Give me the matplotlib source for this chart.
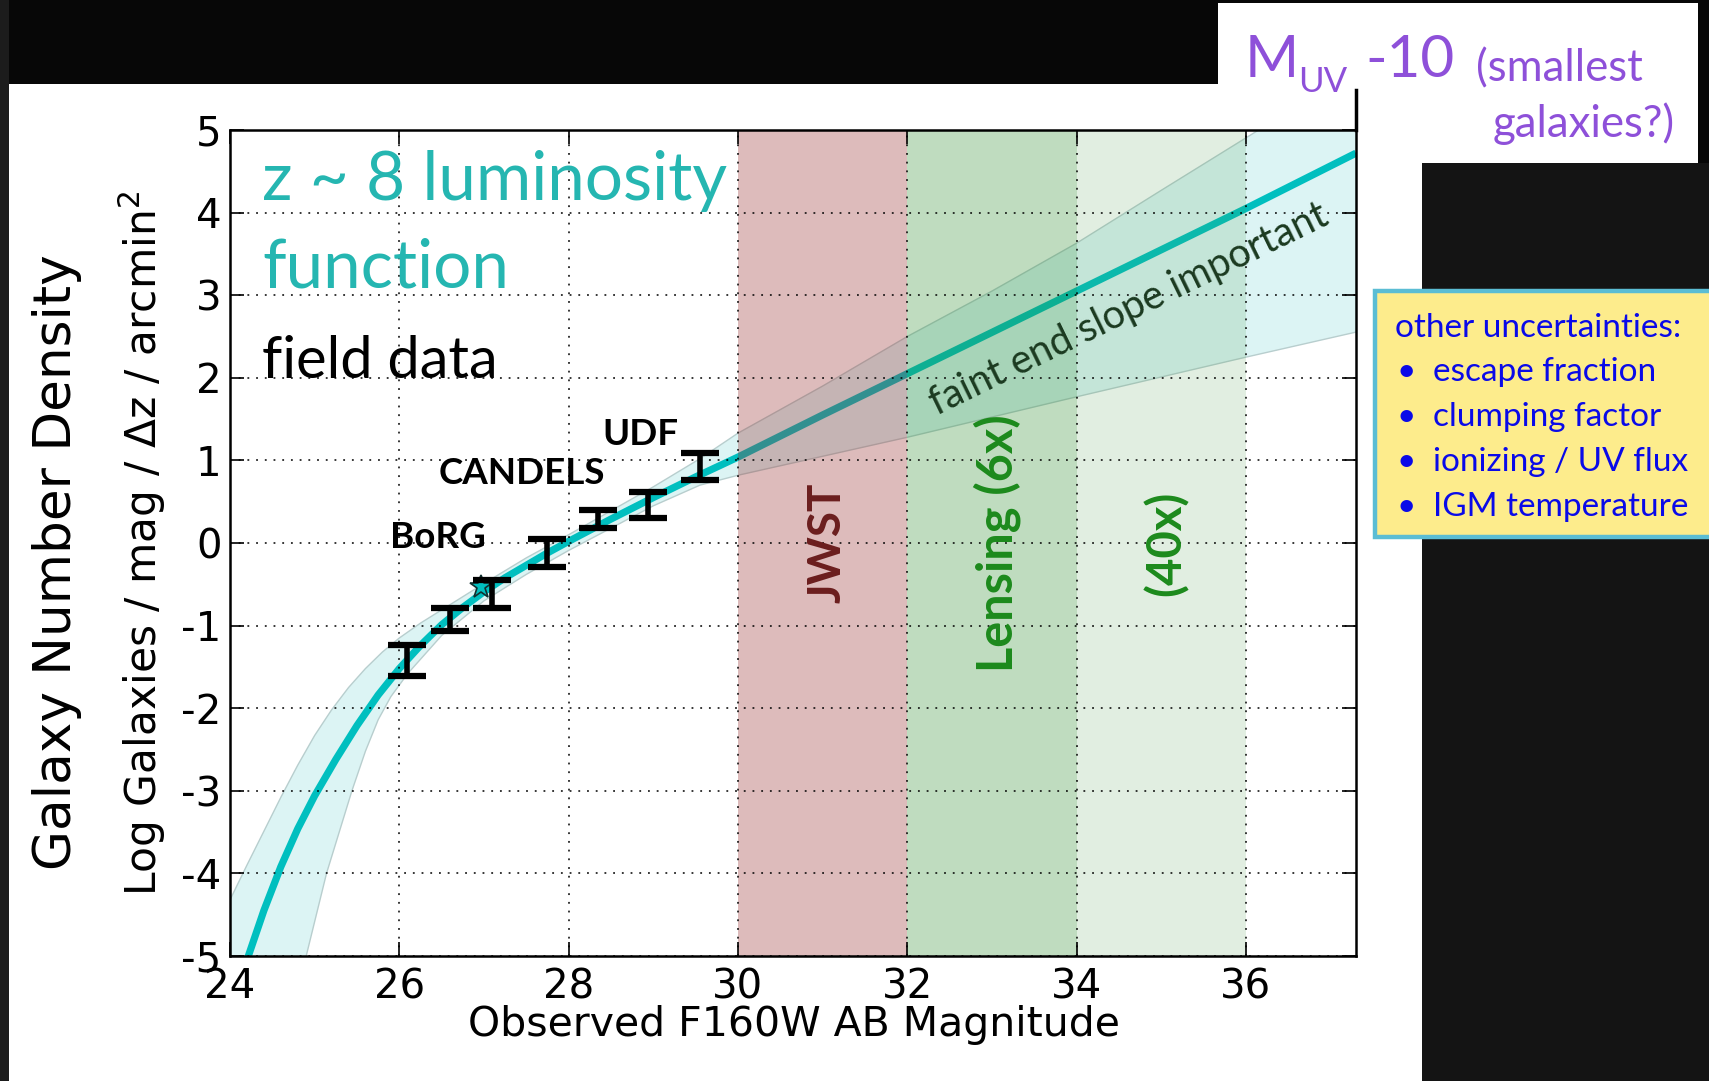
import matplotlib.pyplot as plt
import numpy as np
from matplotlib.patches import Rectangle
from matplotlib.lines import Line2D

plt.rcParams['axes.unicode_minus'] = False

# z~8 luminosity function (log number per mag per dz per arcmin^2)
lf_mag = [24.15, 24.40, 24.60, 24.80, 25.00, 25.25, 25.50, 25.75, 26.00, 26.25,
          26.50, 26.75, 27.00, 27.25, 27.50, 27.75, 28.00, 28.50, 29.00, 29.50,
          30.00, 31.00, 32.00, 33.00, 34.00, 35.00, 36.00, 37.30]
lf_log = [-5.20, -4.45, -3.92, -3.46, -3.06, -2.62, -2.21, -1.84, -1.52, -1.24,
          -0.99, -0.78, -0.59, -0.42, -0.27, -0.12, 0.02, 0.29, 0.55, 0.80,
          1.04, 1.55, 2.05, 2.55, 3.05, 3.55, 4.05, 4.72]

# uncertainty envelope
up_mag = [23.80, 24.00, 24.20, 24.40, 24.60, 24.80, 25.00, 25.20, 25.40, 25.60,
          25.80, 26.00, 26.25, 26.50, 26.75, 27.00, 27.50, 28.00, 28.50, 29.00,
          29.55, 30.00, 31.00, 32.00, 33.00, 34.00, 35.00, 36.15, 37.50]
up_log = [-5.50, -4.32, -3.90, -3.49, -3.08, -2.69, -2.33, -2.02, -1.75, -1.52,
          -1.32, -1.15, -0.97, -0.81, -0.65, -0.49, -0.18, 0.10, 0.39, 0.68,
          1.02, 1.33, 1.90, 2.50, 3.05, 3.63, 4.27, 5.00, 5.80]
lo_mag = [24.80, 24.90, 25.14, 25.44, 25.60, 25.75, 25.90, 26.10, 26.50, 27.00,
          27.50, 28.00, 28.50, 29.00, 29.55, 30.00, 32.00, 34.00, 36.00, 37.50]
lo_log = [-5.50, -5.00, -4.00, -3.00, -2.52, -2.14, -1.86, -1.58, -1.12, -0.70,
          -0.38, -0.09, 0.18, 0.45, 0.70, 0.82, 1.28, 1.77, 2.25, 2.60]

# field data points
bar_mag = [26.09, 26.60, 27.09, 27.74, 28.35, 28.94, 29.55]
bar_log = [-1.42, -0.93, -0.62, -0.12, 0.29, 0.46, 0.93]
bar_err = [0.19, 0.14, 0.17, 0.165, 0.11, 0.16, 0.165]
star_mag, star_log = 26.97, -0.53

survey_names = ['BoRG', 'CANDELS', 'UDF']
survey_pos = [(26.46, 0.07), (27.45, 0.84), (28.85, 1.31)]

reach_names = ['JWST', 'Lensing (6x)', '(40x)']
reach_lims = [(30, 32), (32, 34), (34, 36)]
reach_fill = [('#993333', 0.33), ('#2e8b2e', 0.30), ('#4a9a4a', 0.16)]
reach_text = ['#6b1e1e', '#1c8a1c', '#1c8a1c']
reach_size = [33, 35, 34]

uncert = ['escape fraction', 'clumping factor', 'ionizing / UV flux', 'IGM temperature']

W, H = 1709, 1081
def fx(px): return px / W
def fy(py): return 1 - py / H

TEAL = '#00bfbf'
CAL = ['Lato', 'DejaVu Sans']

fig = plt.figure(figsize=(W / 100, H / 100), dpi=100, facecolor='#070707')

# slide panels
fig.add_artist(Rectangle((0, 0), fx(9), 1, transform=fig.transFigure,
                         facecolor='#1c1c1c', lw=0, zorder=-10))
fig.add_artist(Rectangle((fx(9), 0), fx(1422) - fx(9), fy(84), transform=fig.transFigure,
                         facecolor='white', lw=0, zorder=-9))
fig.add_artist(Rectangle((fx(1422), 0), 1 - fx(1422), fy(163), transform=fig.transFigure,
                         facecolor='#141414', lw=0, zorder=-9))
fig.add_artist(Rectangle((fx(1218), fy(163)), fx(1698) - fx(1218), fy(3) - fy(163),
                         transform=fig.transFigure, facecolor='white', lw=0, zorder=-8))

ax = fig.add_axes([fx(230), fy(956), fx(1356) - fx(230), fy(130) - fy(956)])

ax.fill(np.r_[up_mag, lo_mag[::-1]], np.r_[up_log, lo_log[::-1]],
        facecolor='#dcf4f4', edgecolor='#b8cece', lw=1, zorder=1)
ax.plot(lf_mag, lf_log, color=TEAL, lw=5.2, zorder=2, solid_capstyle='butt')

for (x0, x1), (c, a) in zip(reach_lims, reach_fill):
    ax.axvspan(x0, x1, color=c, alpha=a, lw=0, zorder=2.2)

ax.errorbar(bar_mag, bar_log, yerr=bar_err, fmt='none', ecolor='k',
            elinewidth=4, capsize=14, capthick=4.5, zorder=4)
ax.plot(star_mag, star_log, marker='*', ms=17, mfc=TEAL, mec='#123030',
        mew=1.2, zorder=3.5)

ax.set_xlim(24, 37.3)
ax.set_ylim(-5, 5)
ax.set_xticks(range(24, 37, 2))
ax.set_yticks(range(-5, 6))
ax.grid(True, color='k', linestyle=(0, (1.2, 4.5)), lw=1.1)
ax.set_axisbelow(False)
ax.tick_params(direction='in', top=True, right=True, length=10, width=1.2,
               labelsize=29)
ax.tick_params(axis='x', pad=8)
ax.tick_params(axis='y', pad=6)
for s in ax.spines.values():
    s.set_linewidth(1.8)

for name, (x, y) in zip(survey_names, survey_pos):
    ax.text(x, y, name, ha='center', va='center', fontsize=26.5,
            fontweight='bold', family=CAL, zorder=5)

for name, (x0, x1), c, fs in zip(reach_names, reach_lims, reach_text, reach_size):
    ax.text((x0 + x1) / 2 + 0.06, 0.0, name, rotation=90, ha='center', va='center',
            fontsize=fs, fontweight='bold', color=c, family=CAL, zorder=5)

ax.text(34.62, 2.83, 'faint end slope important', rotation=26, ha='center',
        va='center', fontsize=28.5, color='#1b3a20', family=CAL, zorder=5,
        rotation_mode='anchor')

# axis titles
fig.text(fx(794), fy(1025), 'Observed F160W AB Magnitude', ha='center', va='center',
         fontsize=29.5)
fig.text(fx(142), fy(543), 'Log Galaxies / mag / $\\Delta$z / arcmin$^2$', rotation=90,
         ha='center', va='center', fontsize=30.5)
fig.text(fx(57), fy(562), 'Galaxy Number Density', rotation=90, ha='center',
         va='center', fontsize=37.2)

# panel headline
fig.text(fx(262), fy(200), 'z ~ 8 luminosity', fontsize=48.5, color='#25b6b1',
         family=CAL, va='baseline')
fig.text(fx(262), fy(288), 'function', fontsize=48.5, color='#25b6b1',
         family=CAL, va='baseline')
fig.text(fx(262), fy(378), 'field data', fontsize=41.5, color='k',
         family=CAL, va='baseline')

# faint-limit marker at the top right
PURPLE = '#8e50d9'
fig.add_artist(Line2D([fx(1356), fx(1356)], [fy(130), fy(90)], color='k', lw=2.5))
fig.text(fx(1245), fy(77), 'M', fontsize=42, color=PURPLE, family=CAL, va='baseline')
fig.text(fx(1298), fy(92), 'UV', fontsize=25, color=PURPLE, family=CAL, va='baseline')
fig.text(fx(1365), fy(77), '-10', fontsize=42, color=PURPLE, family=CAL, va='baseline')
fig.text(fx(1476), fy(81), '(smallest', fontsize=31.5, color=PURPLE, family=CAL,
         va='baseline')
fig.text(fx(1675), fy(137), 'galaxies?)', fontsize=31.5, color=PURPLE, family=CAL,
         va='baseline', ha='right')

# other uncertainties box
fig.add_artist(Rectangle((fx(1375), fy(537)), fx(1715) - fx(1375), fy(291) - fy(537),
                         transform=fig.transFigure, facecolor='#fdec8c',
                         edgecolor='#5bbdd4', lw=3.2, zorder=5))
BLUE = '#0a0ae8'
fig.text(fx(1395), fy(337), 'other uncertainties:', fontsize=24, color=BLUE,
         family=CAL, va='baseline', zorder=6)
for i, item in enumerate(uncert):
    yb = 381 + 45 * i
    fig.text(fx(1397), fy(yb), '\u2022', fontsize=24, color=BLUE, family=CAL,
             va='baseline', zorder=6)
    fig.text(fx(1433), fy(yb), item, fontsize=24, color=BLUE, family=CAL,
             va='baseline', zorder=6)

fig.savefig('out.png', dpi=100, facecolor=fig.get_facecolor())
